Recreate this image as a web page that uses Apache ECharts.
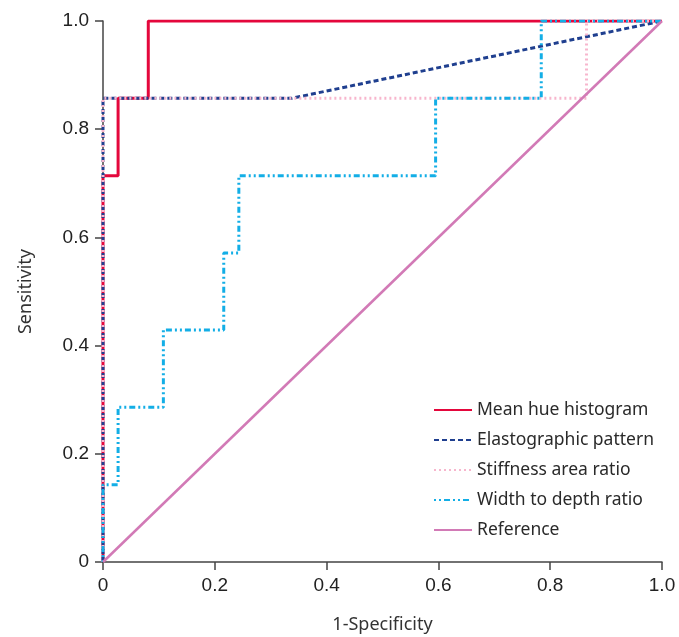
<!DOCTYPE html>
<html>
<head>
<meta charset="utf-8">
<script src="https://cdn.jsdelivr.net/npm/echarts@6/dist/echarts.min.js"></script>
<style>
  html, body { margin: 0; padding: 0; background: #fff; }
  #chart { width: 679px; height: 637px; }
</style>
</head>
<body>
<div id="chart"></div>
<script>
// ROC curves, [1-specificity, sensitivity]
const meanHue = [[0, 0], [0, 0.714], [0.027, 0.714], [0.027, 0.857], [0.081, 0.857], [0.081, 1], [1, 1]];
const elasto = [[0, 0], [0, 0.857], [0.337, 0.857], [1, 1]];
const stiffness = [[0, 0], [0, 0.857], [0.865, 0.857], [0.865, 1], [1, 1]];
const widthDepth = [
    [0, 0], [0, 0.143], [0.027, 0.143], [0.027, 0.286], [0.108, 0.286], [0.108, 0.429],
    [0.216, 0.429], [0.216, 0.571], [0.243, 0.571], [0.243, 0.714], [0.595, 0.714],
    [0.595, 0.857], [0.784, 0.857], [0.784, 1], [1, 1]
];
const reference = [[0, 0], [1, 1]];

const seriesNames = ['Mean hue histogram', 'Elastographic pattern', 'Stiffness area ratio', 'Width to depth ratio', 'Reference'];

const tickFont = '"Liberation Sans", Arial, sans-serif';
const textFont = '"Noto Sans", "Open Sans", sans-serif';

const chart = echarts.init(document.getElementById('chart'));

const axisCommon = {
    type: 'value',
    min: 0,
    max: 1,
    interval: 0.2,
    splitLine: { show: false },
    axisLine: { show: true, lineStyle: { color: '#444', width: 1.5 } },
    axisTick: { show: true, length: 8, lineStyle: { color: '#444', width: 1.5 } },
    axisLabel: {
        color: '#222',
        fontSize: 19,
        fontFamily: tickFont,
        formatter: v => (v === 0 ? '0' : v.toFixed(1))
    },
    nameLocation: 'middle',
    nameTextStyle: { color: '#333', fontSize: 18, fontFamily: textFont }
};

const mkLine = (name, data, color, width, type, z) => ({
    name,
    type: 'line',
    data,
    showSymbol: false,
    symbol: 'none',
    animation: false,
    z,
    lineStyle: { color, width, type },
    itemStyle: { color }
});

chart.setOption({
    backgroundColor: '#fff',
    grid: { left: 103, right: 17, top: 21, bottom: 75, outerBoundsMode: 'none' },
    legend: {
        orient: 'vertical',
        left: 428,
        top: 396,
        itemWidth: 38,
        itemHeight: 16,
        itemGap: 12,
        itemStyle: { opacity: 0 },
        data: seriesNames,
        textStyle: { color: '#2a2a2a', fontSize: 17.5, fontFamily: textFont }
    },
    xAxis: {
        ...axisCommon,
        name: '1-Specificity',
        nameGap: 54,
        axisLabel: { ...axisCommon.axisLabel, margin: 14 }
    },
    yAxis: {
        ...axisCommon,
        name: 'Sensitivity',
        nameGap: 68,
        axisLabel: { ...axisCommon.axisLabel, margin: 14 }
    },
    series: [
        mkLine(seriesNames[0], meanHue, '#e4073c', 3, 'solid', 2),
        mkLine(seriesNames[1], elasto, '#1f3f8f', 3, [5, 3], 3),
        mkLine(seriesNames[2], stiffness, '#f7b6cd', 3, [2, 3], 4),
        mkLine(seriesNames[3], widthDepth, '#13aee6', 3, [2, 3, 2, 3, 6, 3], 5),
        mkLine(seriesNames[4], reference, '#d27ab6', 2.5, 'solid', 6)
    ]
});
</script>
</body>
</html>
